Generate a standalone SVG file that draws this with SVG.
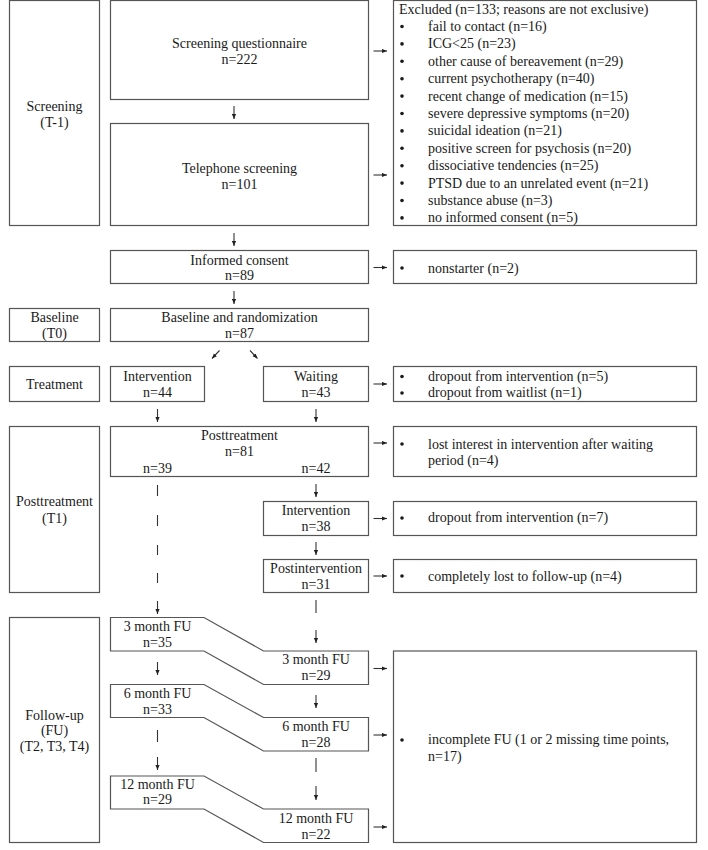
<svg xmlns="http://www.w3.org/2000/svg" width="708" height="850" viewBox="0 0 708 850">
<defs>
<marker id="ah" viewBox="0 0 6 6" refX="6" refY="3" markerWidth="5" markerHeight="5" markerUnits="userSpaceOnUse" orient="auto">
<path d="M0,0.5 L6,3 L0,5.5 z" fill="#222"/>
</marker>
<style>
.b{fill:#fff;stroke:#555;stroke-width:1.2}
text{font-family:"Liberation Serif","Times New Roman",serif;font-size:14px;fill:#1a1a1a}
.c{text-anchor:middle}
.a{stroke:#333;stroke-width:1.1;fill:none;marker-end:url(#ah)}
.d{stroke:#333;stroke-width:1.1;fill:none}
.dot{fill:#1a1a1a}
</style>
</defs>
<rect width="708" height="850" fill="#fff"/>

<g id="phase-screening"><rect class="b" x="9.5" y="0.5" width="90" height="225"/><text class="c" x="54.5" y="111">Screening</text><text class="c" x="54.5" y="127">(T-1)</text></g>
<g id="phase-baseline"><rect class="b" x="9.5" y="308.5" width="90" height="33"/><text class="c" x="54.5" y="322">Baseline</text><text class="c" x="54.5" y="338">(T0)</text></g>
<g id="phase-treatment"><rect class="b" x="9.5" y="366.5" width="90" height="35"/><text class="c" x="54.5" y="388.5">Treatment</text></g>
<g id="phase-posttreatment"><rect class="b" x="9.5" y="426.5" width="90" height="166"/><text class="c" x="54.5" y="506">Posttreatment</text><text class="c" x="54.5" y="522.5">(T1)</text></g>
<g id="phase-followup"><rect class="b" x="9.5" y="617.5" width="90" height="225"/><text class="c" x="54.5" y="719.5">Follow-up</text><text class="c" x="54.5" y="735">(FU)</text><text class="c" x="54.5" y="751">(T2, T3, T4)</text></g>

<g id="screening-questionnaire"><rect class="b" x="110.5" y="0.5" width="258" height="99"/><text class="c" x="239.5" y="47.5">Screening questionnaire</text><text class="c" x="239.5" y="63.5">n=222</text></g>
<g id="telephone-screening"><rect class="b" x="110.5" y="123.5" width="258" height="102"/><text class="c" x="239.5" y="172.5">Telephone screening</text><text class="c" x="239.5" y="188.5">n=101</text></g>
<g id="informed-consent"><rect class="b" x="110.5" y="250.5" width="258" height="33"/><text class="c" x="239.5" y="264.5">Informed consent</text><text class="c" x="239.5" y="280">n=89</text></g>
<g id="baseline-randomization"><rect class="b" x="110.5" y="308.5" width="258" height="33"/><text class="c" x="239.5" y="322">Baseline and randomization</text><text class="c" x="239.5" y="338">n=87</text></g>
<g id="intervention-44"><rect class="b" x="110.5" y="366.5" width="94" height="35"/><text class="c" x="157.5" y="381">Intervention</text><text class="c" x="157.5" y="397">n=44</text></g>
<g id="waiting-43"><rect class="b" x="263.5" y="366.5" width="105" height="35"/><text class="c" x="316" y="381">Waiting</text><text class="c" x="316" y="397">n=43</text></g>
<g id="posttreatment-81"><rect class="b" x="110.5" y="426.5" width="258" height="50"/><text class="c" x="239.5" y="439.5">Posttreatment</text><text class="c" x="239.5" y="456">n=81</text><text class="c" x="157.5" y="472.5">n=39</text><text class="c" x="316" y="472.5">n=42</text></g>
<g id="intervention-38"><rect class="b" x="263.5" y="501.5" width="105" height="34"/><text class="c" x="316" y="514.5">Intervention</text><text class="c" x="316" y="531">n=38</text></g>
<g id="postintervention-31"><rect class="b" x="263.5" y="559.5" width="105" height="33"/><text class="c" x="316" y="572.5">Postintervention</text><text class="c" x="316" y="588.5">n=31</text></g>

<g id="fu3"><path class="b" d="M110.5,617.5 H204 L263.5,651 H368.5 V684.5 H263.5 L204,651 H110.5 Z"/><text class="c" x="157.5" y="631">3 month FU</text><text class="c" x="157.5" y="647">n=35</text><text class="c" x="316" y="664">3 month FU</text><text class="c" x="316" y="680">n=29</text></g>
<g id="fu6"><path class="b" d="M110.5,684.5 H204 L263.5,717.5 H368.5 V751 H263.5 L204,717.5 H110.5 Z"/><text class="c" x="157.5" y="697.5">6 month FU</text><text class="c" x="157.5" y="713.5">n=33</text><text class="c" x="316" y="731">6 month FU</text><text class="c" x="316" y="747">n=28</text></g>
<g id="fu12"><path class="b" d="M110.5,776 H204 L263.5,809 H368.5 V842.5 H263.5 L204,809 H110.5 Z"/><text class="c" x="157.5" y="788.5">12 month FU</text><text class="c" x="157.5" y="804">n=29</text><text class="c" x="316" y="822.5">12 month FU</text><text class="c" x="316" y="838.5">n=22</text></g>

<g id="excluded"><rect class="b" x="393.5" y="0.5" width="303" height="225"/>
<text x="399" y="13.5">Excluded (n=133; reasons are not exclusive)</text>
<g class="dot"><circle cx="402" cy="26.5" r="1.8"/><circle cx="402" cy="43.9" r="1.8"/><circle cx="402" cy="61.3" r="1.8"/><circle cx="402" cy="78.7" r="1.8"/><circle cx="402" cy="96.1" r="1.8"/><circle cx="402" cy="113.5" r="1.8"/><circle cx="402" cy="130.9" r="1.8"/><circle cx="402" cy="148.3" r="1.8"/><circle cx="402" cy="165.7" r="1.8"/><circle cx="402" cy="183.1" r="1.8"/><circle cx="402" cy="200.5" r="1.8"/><circle cx="402" cy="217.9" r="1.8"/></g>
<text x="428" y="30.9">fail to contact (n=16)</text>
<text x="428" y="48.3">ICG&lt;25 (n=23)</text>
<text x="428" y="65.7">other cause of bereavement (n=29)</text>
<text x="428" y="83.1">current psychotherapy (n=40)</text>
<text x="428" y="100.5">recent change of medication (n=15)</text>
<text x="428" y="117.9">severe depressive symptoms (n=20)</text>
<text x="428" y="135.3">suicidal ideation (n=21)</text>
<text x="428" y="152.7">positive screen for psychosis (n=20)</text>
<text x="428" y="170.1">dissociative tendencies (n=25)</text>
<text x="428" y="187.5">PTSD due to an unrelated event (n=21)</text>
<text x="428" y="204.9">substance abuse (n=3)</text>
<text x="428" y="222.3">no informed consent (n=5)</text>
</g>
<g id="nonstarter"><rect class="b" x="393.5" y="250.5" width="303" height="33"/><circle class="dot" cx="402" cy="268" r="1.8"/><text x="428" y="272.5">nonstarter (n=2)</text></g>
<g id="dropout-treatment"><rect class="b" x="393.5" y="366.5" width="303" height="35"/><circle class="dot" cx="402" cy="376.5" r="1.8"/><circle class="dot" cx="402" cy="393" r="1.8"/><text x="428" y="380.5">dropout from intervention (n=5)</text><text x="428" y="397">dropout from waitlist (n=1)</text></g>
<g id="lost-interest"><rect class="b" x="393.5" y="426.5" width="303" height="50"/><circle class="dot" cx="402" cy="444" r="1.8"/><text x="428" y="448.5">lost interest in intervention after waiting</text><text x="428" y="465">period (n=4)</text></g>
<g id="dropout-intervention"><rect class="b" x="393.5" y="501.5" width="303" height="34"/><circle class="dot" cx="402" cy="518" r="1.8"/><text x="428" y="522">dropout from intervention (n=7)</text></g>
<g id="lost-followup"><rect class="b" x="393.5" y="559.5" width="303" height="33"/><circle class="dot" cx="402" cy="576" r="1.8"/><text x="428" y="580.5">completely lost to follow-up (n=4)</text></g>
<g id="incomplete-fu"><rect class="b" x="393.5" y="651" width="303" height="191.5"/><circle class="dot" cx="402" cy="740" r="1.8"/><text x="428" y="744">incomplete FU (1 or 2 missing time points,</text><text x="428" y="760.5">n=17)</text></g>

<g id="connectors">
<path class="a" d="M234,106 V119"/>
<path class="a" d="M234,233 V246"/>
<path class="a" d="M234,291 V304"/>
<path class="a" d="M219.5,350.5 L212,358.5"/>
<path class="a" d="M250,350.5 L257.5,358.5"/>
<path class="a" d="M157.5,409 V422"/>
<path class="a" d="M316,409 V422"/>
<path class="a" d="M316,484 V497"/>
<path class="a" d="M316,542 V555"/>
<path class="d" d="M157.5,485 V496 M157.5,515 V526 M157.5,545 V555 M157.5,573 V583"/>
<path class="a" d="M157.5,601 V614"/>
<path class="d" d="M316,600 V613"/>
<path class="a" d="M316,630 V643"/>
<path class="a" d="M157.5,662 V675"/>
<path class="d" d="M157.5,730 V742"/>
<path class="a" d="M157.5,757 V770"/>
<path class="a" d="M316,695 V708"/>
<path class="d" d="M316,758 V772"/>
<path class="a" d="M316,786 V800"/>
<path class="a" d="M373.5,51 H387"/>
<path class="a" d="M373.5,175 H387"/>
<path class="a" d="M373.5,267.5 H387"/>
<path class="a" d="M373.5,384 H387"/>
<path class="a" d="M373.5,443 H387"/>
<path class="a" d="M373.5,518.5 H387"/>
<path class="a" d="M373.5,576 H387"/>
<path class="a" d="M373.5,668.5 H387"/>
<path class="a" d="M373.5,735 H387"/>
<path class="a" d="M373.5,827 H387"/>
</g>
</svg>
